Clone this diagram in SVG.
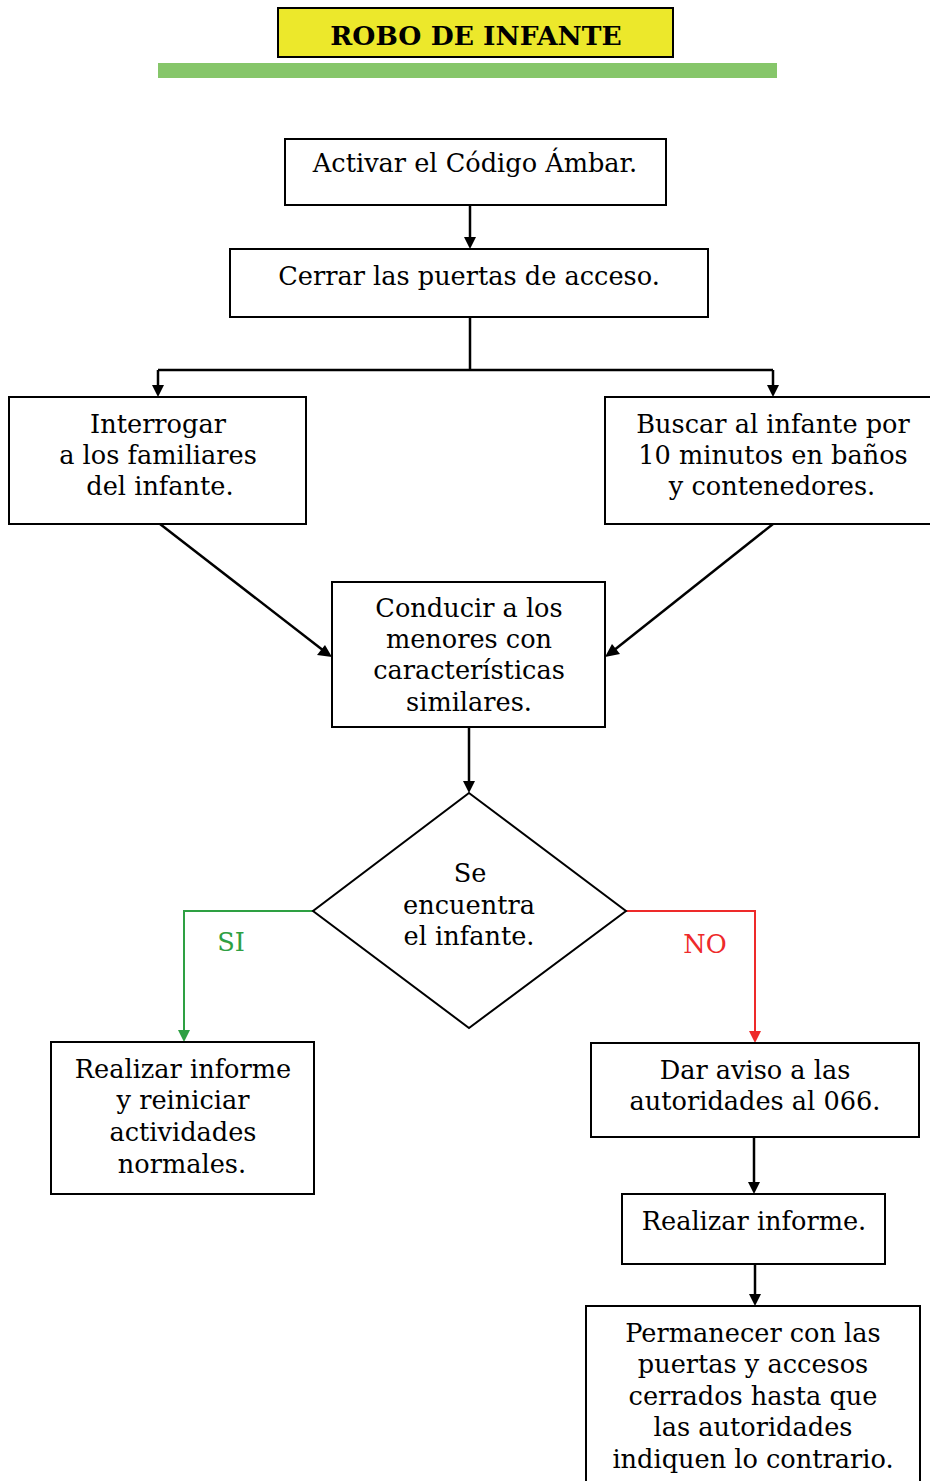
<svg xmlns="http://www.w3.org/2000/svg" width="930" height="1481" viewBox="0 0 930 1481">
<defs>
<style>
.box{fill:#fff;stroke:#000;stroke-width:2}
.t{font-family:"DejaVu Serif","Liberation Serif",serif;font-size:25.6px;fill:#000;text-anchor:middle}
.c{fill:none;stroke:#000;stroke-width:2.5}
</style>
</defs>
<rect width="930" height="1481" fill="#fff"/>
<g id="title">
<rect x="278" y="8" width="395" height="49" fill="#ece82b" stroke="#000" stroke-width="2"/>
<text x="476" y="45" font-family="DejaVu Serif, serif" font-weight="bold" font-size="26.5" text-anchor="middle">ROBO DE INFANTE</text>
</g>
<rect id="bar" x="158" y="63" width="619" height="15" fill="#86c66a"/>
<g id="connectors">
<path class="c" d="M470,205 L470,240"/>
<polygon points="464,237 476,237 470,249"/>
<path class="c" d="M470,317 L470,370 M158,370 L773,370 M158,370 L158,388 M773,370 L773,388"/>
<polygon points="152,385 164,385 158,397"/>
<polygon points="767,385 779,385 773,397"/>
<path class="c" d="M160,524 L324,651"/>
<polygon points="332,657 317,655 325,645"/>
<path class="c" d="M773,524 L613,651"/>
<polygon points="605,657 612,644 620,654"/>
<path class="c" d="M469,727 L469,783"/>
<polygon points="463,781 475,781 469,793"/>
<path d="M313,911 L184,911 L184,1032" fill="none" stroke="#2ea043" stroke-width="2"/>
<polygon points="178,1030 190,1030 184,1042" fill="#2ea043"/>
<path d="M626,911 L755,911 L755,1033" fill="none" stroke="#ee2a2a" stroke-width="2"/>
<polygon points="749,1031 761,1031 755,1043" fill="#ee2a2a"/>
<path class="c" d="M754,1137 L754,1184"/>
<polygon points="748,1182 760,1182 754,1194"/>
<path class="c" d="M755,1264 L755,1296"/>
<polygon points="749,1294 761,1294 755,1306"/>
<text x="231" y="951" class="t" style="fill:#2ea043">SI</text>
<text x="705" y="953" class="t" style="fill:#ee2a2a">NO</text>
</g>
<g id="n1"><rect class="box" x="285" y="139" width="381" height="66"/><text class="t" x="475" y="172">Activar el Código Ámbar.</text></g>
<g id="n2"><rect class="box" x="230" y="249" width="478" height="68"/><text class="t" x="469" y="285">Cerrar las puertas de acceso.</text></g>
<g id="n3"><rect class="box" x="9" y="397" width="297" height="127"/><text class="t" x="158" y="433">Interrogar</text><text class="t" x="158" y="464">a los familiares</text><text class="t" x="160" y="495">del infante.</text></g>
<g id="n4"><rect class="box" x="605" y="397" width="340" height="127"/><text class="t" x="773" y="433">Buscar al infante por</text><text class="t" x="773" y="464">10 minutos en baños</text><text class="t" x="772" y="495">y contenedores.</text></g>
<g id="n5"><rect class="box" x="332" y="582" width="273" height="145"/><text class="t" x="469" y="617">Conducir a los</text><text class="t" x="469" y="648">menores con</text><text class="t" x="469" y="679">características</text><text class="t" x="469" y="711">similares.</text></g>
<g id="n6"><polygon points="469,793 626,911 469,1028 313,911" fill="#fff" stroke="#000" stroke-width="2"/><text class="t" x="470" y="882">Se</text><text class="t" x="469" y="914">encuentra</text><text class="t" x="469" y="945">el infante.</text></g>
<g id="n7"><rect class="box" x="51" y="1042" width="263" height="152"/><text class="t" x="183" y="1078">Realizar informe</text><text class="t" x="183" y="1109">y reiniciar</text><text class="t" x="183" y="1141">actividades</text><text class="t" x="182" y="1173">normales.</text></g>
<g id="n8"><rect class="box" x="591" y="1043" width="328" height="94"/><text class="t" x="755" y="1079">Dar aviso a las</text><text class="t" x="755" y="1110">autoridades al 066.</text></g>
<g id="n9"><rect class="box" x="622" y="1194" width="263" height="70"/><text class="t" x="754" y="1230">Realizar informe.</text></g>
<g id="n10"><rect class="box" x="586" y="1306" width="334" height="190"/><text class="t" x="753" y="1342">Permanecer con las</text><text class="t" x="753" y="1373">puertas y accesos</text><text class="t" x="753" y="1405">cerrados hasta que</text><text class="t" x="753" y="1436">las autoridades</text><text class="t" x="753" y="1468">indiquen lo contrario.</text></g>
</svg>
